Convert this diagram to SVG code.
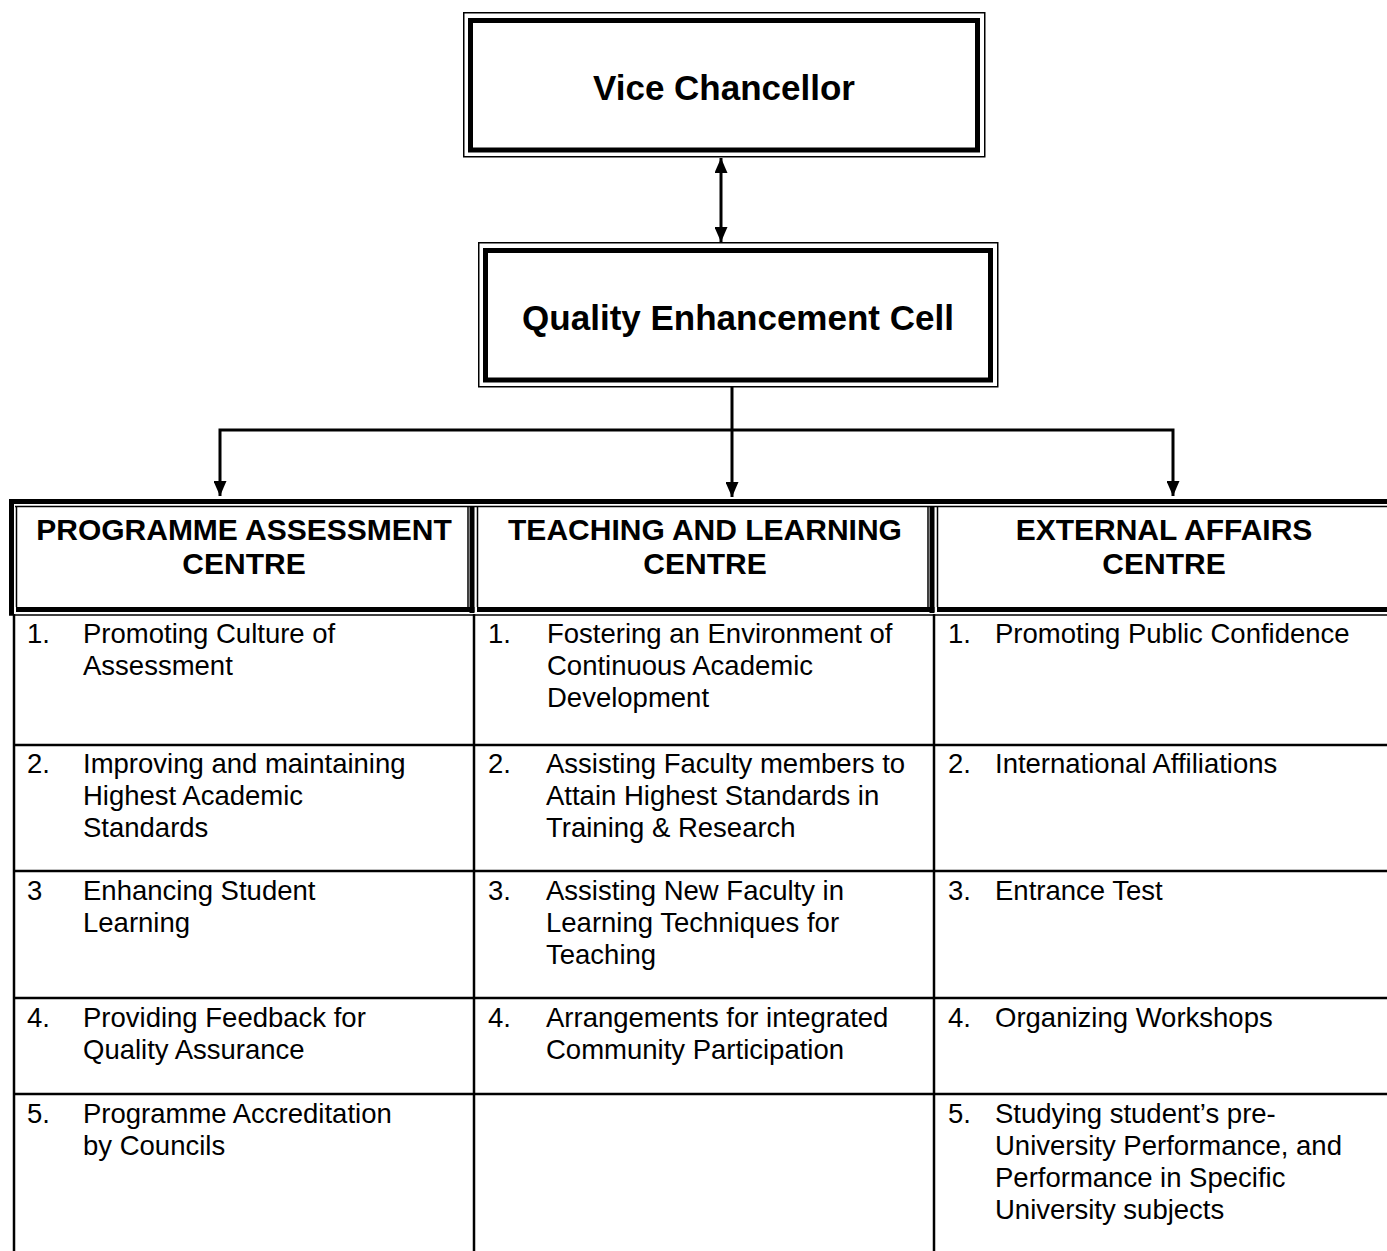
<svg xmlns="http://www.w3.org/2000/svg" width="1387" height="1251" viewBox="0 0 1387 1251">
<defs>
<style>
.t{font-family:"Liberation Sans",Arial,sans-serif;fill:#000}
.title{font-size:35px;font-weight:bold;text-anchor:middle}
.hd{font-size:30px;font-weight:bold;text-anchor:middle}
.b{font-size:27.5px}
.thin{fill:none;stroke:#000;stroke-width:1.5}
.thick{fill:none;stroke:#000;stroke-width:5}
.grid{stroke:#000;stroke-width:2.5;fill:none}
.conn{stroke:#000;stroke-width:3;fill:none;stroke-linejoin:miter}
</style>
<marker id="ah" viewBox="0 0 15 13" refX="15" refY="6.5" markerWidth="15" markerHeight="13" markerUnits="userSpaceOnUse" orient="auto-start-reverse">
<path d="M0,0 L15,6.5 L0,13 z" fill="#000"/>
</marker>
</defs>
<rect width="1387" height="1251" fill="#fff"/>

<g id="vice-chancellor">
<rect class="thin" x="463.75" y="12.75" width="521" height="144"/>
<rect class="thick" x="470.5" y="20.5" width="507" height="129.5"/>
<text class="t title" x="724" y="100">Vice Chancellor</text>
</g>

<g id="qec">
<rect class="thin" x="478.75" y="242.75" width="519" height="144"/>
<rect class="thick" x="485.5" y="250.5" width="505" height="129.5"/>
<text class="t title" x="738" y="330">Quality Enhancement Cell</text>
</g>

<g id="connectors">
<path class="conn" d="M721,158 L721,242" marker-start="url(#ah)" marker-end="url(#ah)"/>
<path class="conn" d="M732,387 L732,497" marker-end="url(#ah)"/>
<path class="conn" d="M220,496 L220,430 L1173,430 L1173,496" marker-start="url(#ah)" marker-end="url(#ah)"/>
</g>

<g id="header-frame">
<rect x="9" y="499" width="1378" height="5" fill="#000"/>
<rect x="9" y="499" width="5" height="116" fill="#000"/>
<line class="thin" x1="15" y1="506.5" x2="1387" y2="506.5"/>
<line class="thin" x1="9" y1="615" x2="1387" y2="615"/>
</g>

<g id="programme-assessment-centre">
<path class="thin" d="M16.5,607 L16.5,506.5 M468,506.5 L468,607"/>
<rect x="469.5" y="506" width="5" height="107" fill="#000"/>
<rect x="16" y="607" width="458.5" height="5" fill="#000"/>
<text class="t hd" x="244" y="540">PROGRAMME ASSESSMENT</text>
<text class="t hd" x="244" y="574">CENTRE</text>
</g>

<g id="teaching-learning-centre">
<path class="thin" d="M477.5,607 L477.5,506.5 M928,506.5 L928,607"/>
<rect x="929.5" y="506" width="5" height="107" fill="#000"/>
<rect x="477" y="607" width="457.5" height="5" fill="#000"/>
<text class="t hd" x="705" y="540">TEACHING AND LEARNING</text>
<text class="t hd" x="705" y="574">CENTRE</text>
</g>

<g id="external-affairs-centre">
<path class="thin" d="M937.5,607 L937.5,506.5"/>
<rect x="937" y="607" width="450" height="5" fill="#000"/>
<text class="t hd" x="1164" y="540">EXTERNAL AFFAIRS</text>
<text class="t hd" x="1164" y="574">CENTRE</text>
</g>

<g id="body-grid">
<path class="grid" d="M14,614 L14,1251 M474,614 L474,1251 M934,614 L934,1251"/>
<path class="grid" d="M14,745 L1387,745 M14,871 L1387,871 M14,998 L1387,998 M14,1094 L1387,1094"/>
</g>

<g id="col-programme-assessment" class="t b">
<text x="27" y="643">1.</text><text x="83" y="643">Promoting Culture of</text><text x="83" y="675">Assessment</text>
<text x="27" y="773">2.</text><text x="83" y="773">Improving and maintaining</text><text x="83" y="805">Highest Academic</text><text x="83" y="837">Standards</text>
<text x="27" y="900">3</text><text x="83" y="900">Enhancing Student</text><text x="83" y="932">Learning</text>
<text x="27" y="1027">4.</text><text x="83" y="1027">Providing Feedback for</text><text x="83" y="1059">Quality Assurance</text>
<text x="27" y="1123">5.</text><text x="83" y="1123">Programme Accreditation</text><text x="83" y="1155">by Councils</text>
</g>

<g id="col-teaching-learning" class="t b">
<text x="488" y="643">1.</text><text x="547" y="643">Fostering an Environment of</text><text x="547" y="675">Continuous Academic</text><text x="547" y="707">Development</text>
<text x="488" y="773">2.</text><text x="546" y="773">Assisting Faculty members to</text><text x="546" y="805">Attain Highest Standards in</text><text x="546" y="837">Training &amp; Research</text>
<text x="488" y="900">3.</text><text x="546" y="900">Assisting New Faculty in</text><text x="546" y="932">Learning Techniques for</text><text x="546" y="964">Teaching</text>
<text x="488" y="1027">4.</text><text x="546" y="1027">Arrangements for integrated</text><text x="546" y="1059">Community Participation</text>
</g>

<g id="col-external-affairs" class="t b">
<text x="948" y="643">1.</text><text x="995" y="643">Promoting Public Confidence</text>
<text x="948" y="773">2.</text><text x="995" y="773">International Affiliations</text>
<text x="948" y="900">3.</text><text x="995" y="900">Entrance Test</text>
<text x="948" y="1027">4.</text><text x="995" y="1027">Organizing Workshops</text>
<text x="948" y="1123">5.</text><text x="995" y="1123">Studying student’s pre-</text><text x="995" y="1155">University Performance, and</text><text x="995" y="1187">Performance in Specific</text><text x="995" y="1219">University subjects</text>
</g>
</svg>
